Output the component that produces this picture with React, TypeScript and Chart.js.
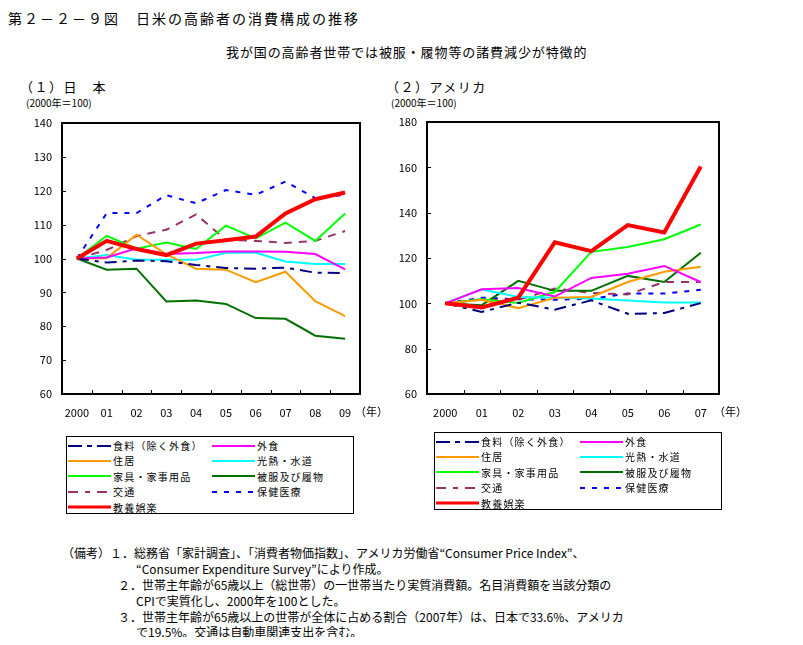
import React, { useEffect, useRef } from "react";
import { Chart, registerables } from "chart.js";

Chart.register(...registerables);

const jpYears = ["2000", "01", "02", "03", "04", "05", "06", "07", "08", "09"];
const usYears = ["2000", "01", "02", "03", "04", "05", "06", "07"];

const seriesNames = [
  "食料（除く外食）",
  "外食",
  "住居",
  "光熱・水道",
  "家具・家事用品",
  "被服及び履物",
  "交通",
  "保健医療",
  "教養娯楽",
];

// Japan (2000 = 100)
const jpFood = [100, 98.8, 99.4, 99.2, 98.1, 97.2, 97.0, 97.3, 95.8, 95.7];
const jpEatOut = [100, 100.3, 103, 101.3, 101.6, 102.1, 102.1, 102, 101.3, 96.8];
const jpHousing = [100, 100.1, 107, 101.2, 97, 96.7, 93, 96.1, 87.4, 83];
const jpUtility = [100, 101, 99.6, 99.6, 99.6, 101.7, 101.7, 99.1, 98.4, 98.4];
const jpFurniture = [100, 106.7, 102.9, 104.7, 102.8, 109.7, 105.9, 110.6, 105.2, 113.3];
const jpClothing = [100, 96.7, 97, 87.3, 87.6, 86.6, 82.4, 82.2, 77.2, 76.3];
const jpTransport = [100, 102.5, 106.6, 108.5, 113, 105.5, 105.2, 104.6, 105.2, 108.1];
const jpMedical = [100, 113.4, 113.4, 118.7, 116.3, 120.2, 118.8, 122.7, 117.8, 118.8];
const jpCulture = [100, 105.2, 102.8, 101, 104.4, 105.4, 106.5, 113.3, 117.5, 119.5];

// USA (2000 = 100)
const usFood = [100, 96.2, 100.3, 97.2, 101.3, 95.4, 95.7, 100.1];
const usEatOut = [100, 106.2, 106.8, 103, 111.2, 113.1, 116.5, 109.4];
const usHousing = [100, 101.6, 97.9, 102.5, 102.8, 109.4, 113.9, 116.1];
const usUtility = [100, 106.2, 102.8, 102.5, 102.1, 101.3, 100.4, 100.4];
const usFurniture = [100, 101.8, 100.2, 105, 122.7, 124.9, 128.3, 134.8];
const usClothing = [100, 99.2, 109.9, 105.5, 105.5, 112.1, 109.4, 122.3];
const usTransport = [100, 101.6, 101.5, 106.5, 104.6, 103.9, 109.4, 109.4];
const usMedical = [100, 102.5, 101.8, 101.6, 102, 104.3, 104.3, 106];
const usCulture = [100, 98.2, 102.5, 126.9, 123, 134.5, 131.3, 160.4];

const jpTicks = [60, 70, 80, 90, 100, 110, 120, 130, 140];
const usTicks = [60, 80, 100, 120, 140, 160, 180];

const styles = [
  { color: "#000080", width: 2, dash: [12, 6, 4, 6], svgDash: "14,5,5,5" },
  { color: "#FF00FF", width: 2, dash: [], svgDash: "" },
  { color: "#FF9900", width: 2, dash: [], svgDash: "" },
  { color: "#00FFFF", width: 2, dash: [], svgDash: "" },
  { color: "#00FF00", width: 2, dash: [], svgDash: "" },
  { color: "#007000", width: 2, dash: [], svgDash: "" },
  { color: "#993366", width: 2, dash: [8, 7], svgDash: "10,7,5,7" },
  { color: "#0000FF", width: 2, dash: [5, 7], svgDash: "5,7" },
  { color: "#FF0000", width: 4, dash: [], svgDash: "" },
];

const FONT = '"Noto Sans CJK JP", "DejaVu Sans", sans-serif';

const framePlugin = {
  id: "frame",
  afterDatasetsDraw(chart: any) {
    const { ctx, chartArea: a, scales } = chart;
    ctx.save();
    ctx.strokeStyle = "#000";
    ctx.lineWidth = 1;
    const xs = scales.x;
    const n = xs.ticks.length;
    for (let i = 1; i < n; i++) {
      const px = Math.round((xs.getPixelForTick(i - 1) + xs.getPixelForTick(i)) / 2) + 0.5;
      ctx.beginPath();
      ctx.moveTo(px, a.bottom);
      ctx.lineTo(px, a.bottom - 4);
      ctx.stroke();
    }
    const ys = scales.y;
    ys.ticks.forEach((t: any) => {
      const py = Math.round(ys.getPixelForValue(t.value)) + 0.5;
      ctx.beginPath();
      ctx.moveTo(a.left, py);
      ctx.lineTo(a.left + 4, py);
      ctx.stroke();
    });
    ctx.lineWidth = 2;
    ctx.strokeRect(a.left, a.top, a.right - a.left, a.bottom - a.top);
    ctx.restore();
  },
};

type PanelProps = {
  labels: string[];
  data: number[][];
  ticks: number[];
  yWidth: number;
  padRight: number;
  padTop: number;
  width: number;
  height: number;
};

function Panel({ labels, data, ticks, yWidth, padRight, padTop, width, height }: PanelProps) {
  const ref = useRef<HTMLCanvasElement | null>(null);
  useEffect(() => {
    if (!ref.current) return;
    const chart = new Chart(ref.current, {
      type: "line",
      data: {
        labels,
        datasets: data.map((d, i) => ({
          label: seriesNames[i],
          data: d,
          borderColor: styles[i].color,
          backgroundColor: styles[i].color,
          borderWidth: styles[i].width,
          borderDash: styles[i].dash,
          pointRadius: 0,
          tension: 0,
          fill: false,
          order: i === 8 ? -1 : 1,
        })),
      },
      options: {
        animation: false,
        responsive: false,
        layout: { padding: { left: 0, right: padRight, top: padTop, bottom: 0 } },
        plugins: { legend: { display: false }, tooltip: { enabled: false } },
        scales: {
          x: {
            type: "category",
            offset: true,
            grid: { display: false, drawTicks: false, offset: true },
            border: { display: false },
            ticks: {
              color: "#000",
              font: { family: FONT, size: 11 },
              padding: 12,
              maxRotation: 0,
              autoSkip: false,
            },
            afterFit: (s: any) => {
              s.height = 31;
              s.paddingLeft = 0;
              s.paddingRight = 0;
            },
          },
          y: {
            min: ticks[0],
            max: ticks[ticks.length - 1],
            grid: { display: false, drawTicks: false },
            border: { display: false },
            afterBuildTicks: (s: any) => {
              s.ticks = ticks.map((v) => ({ value: v }));
            },
            ticks: {
              color: "#000",
              font: { family: FONT, size: 11 },
              padding: 10,
            },
            afterFit: (s: any) => {
              s.width = yWidth;
              s.paddingTop = 0;
              s.paddingBottom = 0;
            },
          },
        },
      },
      plugins: [framePlugin],
    });
    return () => chart.destroy();
  }, []);
  return <canvas ref={ref} width={width} height={height} style={{ width, height, display: "block" }} />;
}

function Legend({ left, top }: { left: number; top: number }) {
  const rows = [
    [0, 1],
    [2, 3],
    [4, 5],
    [6, 7],
    [8, -1],
  ];
  return (
    <div
      style={{
        position: "absolute",
        left,
        top,
        width: 288,
        height: 78,
        border: "1px solid #000",
        boxSizing: "border-box",
      }}
    >
      {rows.map((r, ri) =>
        r.map((si, ci) => {
          if (si < 0) return null;
          const st = styles[si];
          const x0 = ci === 0 ? 1 : 145;
          return (
            <div
              key={ri + "-" + ci}
              style={{ position: "absolute", left: x0, top: 1 + ri * 15.4, height: 15, display: "flex", alignItems: "center" }}
            >
              <svg width={44} height={6} style={{ display: "block" }}>
                <line
                  x1={0}
                  y1={3}
                  x2={43}
                  y2={3}
                  stroke={st.color}
                  strokeWidth={st.width === 4 ? 3 : 2}
                  strokeDasharray={st.svgDash || undefined}
                />
              </svg>
              <span style={{ fontFamily: FONT, fontSize: 10, letterSpacing: 1.2, marginLeft: 1, whiteSpace: "nowrap", color: "#000" }}>
                {seriesNames[si]}
              </span>
            </div>
          );
        })
      )}
    </div>
  );
}

const txt = (left: number, top: number, text: string, size: number, extra: any = {}) => (
  <div
    style={{
      position: "absolute",
      left,
      top,
      fontFamily: FONT,
      fontSize: size,
      lineHeight: 1,
      whiteSpace: "nowrap",
      color: "#000",
      ...extra,
    }}
  >
    {text}
  </div>
);

export default function App() {
  const jpData = [jpFood, jpEatOut, jpHousing, jpUtility, jpFurniture, jpClothing, jpTransport, jpMedical, jpCulture];
  const usData = [usFood, usEatOut, usHousing, usUtility, usFurniture, usClothing, usTransport, usMedical, usCulture];
  return (
    <div style={{ position: "relative", width: 803, height: 645, margin: -8, background: "#fff", overflow: "hidden" }}>
      {txt(8, 11, "第２－２－９図　日米の高齢者の消費構成の推移", 14, { letterSpacing: 2 })}
      {txt(226, 45, "我が国の高齢者世帯では被服・履物等の諸費減少が特徴的", 13, { letterSpacing: 0.9 })}
      {txt(20, 80, "（１）日　本", 13, { letterSpacing: 1.5 })}
      {txt(386, 80, "（２）アメリカ", 13, { letterSpacing: 1.5 })}
      {txt(26, 98, "(2000年＝100)", 10)}
      {txt(391, 98, "(2000年＝100)", 10)}

      <div style={{ position: "absolute", left: 20, top: 110 }}>
        <Panel labels={jpYears} data={jpData} ticks={jpTicks} yWidth={42} padRight={30} padTop={13} width={370} height={315} />
      </div>
      <div style={{ position: "absolute", left: 395, top: 110 }}>
        <Panel labels={usYears} data={usData} ticks={usTicks} yWidth={32} padRight={46} padTop={12} width={370} height={315} />
      </div>
      {txt(355, 406, "（年）", 11)}
      {txt(714, 406, "（年）", 11)}

      <Legend left={66} top={436} />
      <Legend left={434} top={432} />

      {txt(62, 547, "（備考）１．総務省「家計調査」、「消費者物価指数」、アメリカ労働省“Consumer Price Index”、", 12)}
      {txt(136, 563, "“Consumer Expenditure Survey”により作成。", 12)}
      {txt(118, 579, "２．世帯主年齢が65歳以上（総世帯）の一世帯当たり実質消費額。名目消費額を当該分類の", 12)}
      {txt(136, 595, "CPIで実質化し、2000年を100とした。", 12)}
      {txt(118, 611, "３．世帯主年齢が65歳以上の世帯が全体に占める割合（2007年）は、日本で33.6%、アメリカ", 12)}
      {txt(136, 626, "で19.5%。交通は自動車関連支出を含む。", 12)}
    </div>
  );
}
